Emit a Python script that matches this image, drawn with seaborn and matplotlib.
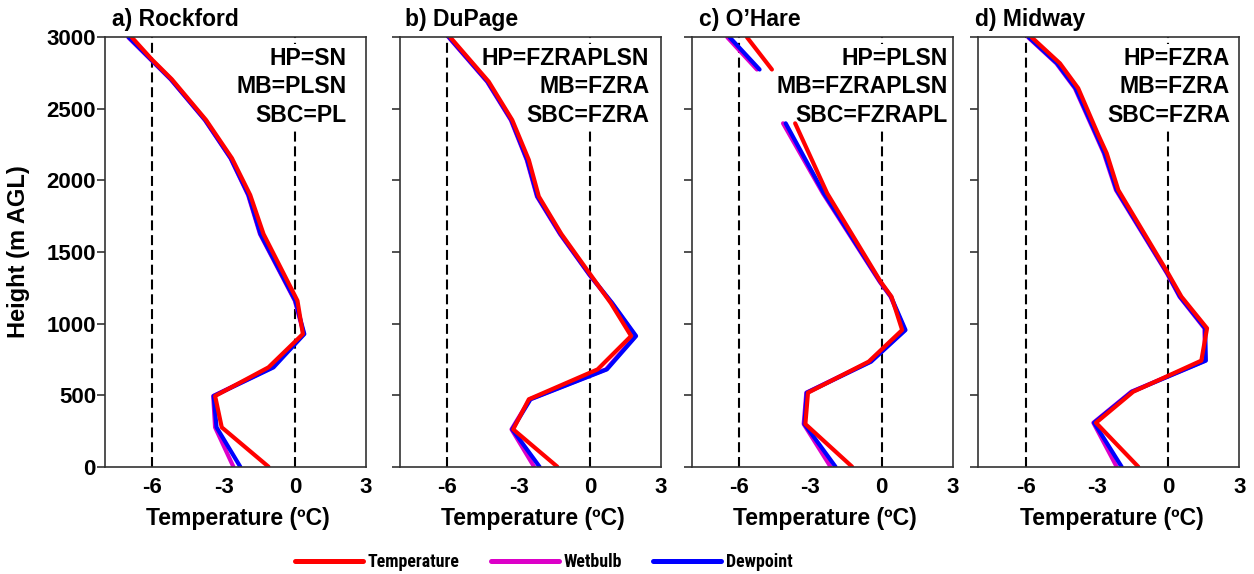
import numpy as np
import pandas as pd
import matplotlib
matplotlib.use("Agg")
import matplotlib.pyplot as plt
import seaborn as sns
from matplotlib.lines import Line2D
from matplotlib import font_manager as fm
from matplotlib.font_manager import FontProperties

# ---------------- data ----------------
titles = ["a) Rockford", "b) DuPage", "c) O\u2019Hare", "d) Midway"]
labels_hp = ["HP=SN", "HP=FZRAPLSN", "HP=PLSN", "HP=FZRA"]
labels_mb = ["MB=PLSN", "MB=FZRA", "MB=FZRAPLSN", "MB=FZRA"]
labels_sbc = ["SBC=PL", "SBC=FZRA", "SBC=FZRAPL", "SBC=FZRA"]

# a) Rockford
height_a = [3000, 2846, 2706, 2422, 2155, 1898, 1626, 1160, 927, 694, 494, 275, 0]
temp_a = [-6.87, -6.03, -5.18, -3.74, -2.65, -1.88, -1.32, 0.11, 0.34, -1.11, -3.36, -3.08, -1.11]
dewp_a = [-7.00, -6.07, -5.22, -3.78, -2.70, -1.95, -1.45, 0.02, 0.40, -0.90, -3.42, -3.30, -2.30]
wetb_a = [-7.02, -6.08, -5.23, -3.79, -2.71, -1.97, -1.47, 0.00, 0.38, -0.95, -3.44, -3.36, -2.59]

# b) DuPage
height_b = [3000, 2690, 2422, 2143, 1888, 1626, 1339, 1142, 913, 680, 471, 261, 0]
temp_b = [-5.88, -4.26, -3.27, -2.57, -2.15, -1.20, 0.04, 0.89, 1.74, 0.33, -2.57, -3.23, -1.37]
dewp_b = [-5.93, -4.31, -3.31, -2.64, -2.21, -1.24, 0.00, 0.95, 1.95, 0.72, -2.50, -3.27, -2.12]
wetb_b = [-5.95, -4.33, -3.33, -2.66, -2.23, -1.26, -0.01, 0.93, 1.92, 0.68, -2.53, -3.30, -2.35]

# c) O'Hare (missing level -> gap)
height_c = [3000, 2775, np.nan, 2399, 1910, 1293, 1188, 955, 734, 517, 298, 0]
temp_c = [-5.67, -4.62, np.nan, -3.64, -2.29, -0.04, 0.42, 0.87, -0.54, -3.10, -3.21, -1.24]
dewp_c = [-6.40, -5.14, np.nan, -4.04, -2.43, -0.06, 0.40, 1.01, -0.44, -3.15, -3.25, -1.94]
wetb_c = [-6.50, -5.25, np.nan, -4.15, -2.47, -0.08, 0.38, 0.98, -0.48, -3.17, -3.28, -2.15]

# d) Midway
height_d = [3000, 2818, 2644, 2317, 2190, 1933, 1351, 1188, 967, 741, 524, 307, 0]
temp_d = [-5.75, -4.56, -3.79, -2.94, -2.59, -2.10, 0.00, 0.56, 1.64, 1.40, -1.47, -3.04, -1.26]
dewp_d = [-5.87, -4.68, -3.90, -3.02, -2.68, -2.17, -0.03, 0.50, 1.56, 1.59, -1.52, -3.12, -1.96]
wetb_d = [-5.90, -4.71, -3.93, -3.05, -2.71, -2.20, -0.05, 0.48, 1.53, 1.56, -1.55, -3.15, -2.17]

x_ticks = [-6, -3, 0, 3]
y_ticks = [0, 500, 1000, 1500, 2000, 2500, 3000]
ref_lines = [-6, 0]

panels = [
    (height_a, temp_a, wetb_a, dewp_a),
    (height_b, temp_b, wetb_b, dewp_b),
    (height_c, temp_c, wetb_c, dewp_c),
    (height_d, temp_d, wetb_d, dewp_d),
]

colors = {"Temperature": "#FF0000", "Wetbulb": "#DC00C8", "Dewpoint": "#0000FF"}
draw_order = ["Wetbulb", "Dewpoint", "Temperature"]
legend_order = ["Temperature", "Wetbulb", "Dewpoint"]

# ---------------- style ----------------
sns.set_style("ticks")
plt.rcParams["font.family"] = ["Liberation Sans", "DejaVu Sans"]
plt.rcParams["font.weight"] = "bold"
plt.rcParams["axes.labelweight"] = "bold"
plt.rcParams["text.color"] = "black"
plt.rcParams["axes.labelcolor"] = "black"
plt.rcParams["xtick.color"] = "black"
plt.rcParams["ytick.color"] = "black"

names = {f.name for f in fm.fontManager.ttflist}
narrow = None
for cand in ["Liberation Sans Narrow", "Arial Narrow", "Roboto Condensed",
             "Noto Sans Condensed", "Open Sans Condensed"]:
    if cand in names:
        narrow = cand
        break

W, H = 1254, 574
fig = plt.figure(figsize=(W / 100, H / 100), dpi=100)

lefts = [105, 400, 691.7, 978.3]
ax_w, ax_h = 261, 429.4
ax_bottom = 466.7
text_x = [0.924, 0.955, 0.981, 0.964]
text_y = [0.9355, 0.8696, 0.8034]
title_x = [0.026, 0.019, 0.029, -0.012]

for i, (hts, tt, ww, dd) in enumerate(panels):
    ax = fig.add_axes([lefts[i] / W, (H - ax_bottom) / H, ax_w / W, ax_h / H])
    for xv in ref_lines:
        ax.axvline(xv, color="black", lw=1.5, ls=(0, (4.8, 2.3)), zorder=1)

    hts_arr = np.asarray(hts, dtype=float)
    seg = np.cumsum(np.isnan(hts_arr))
    rows = []
    for name, vals in zip(["Temperature", "Wetbulb", "Dewpoint"], [tt, ww, dd]):
        for h, v, s in zip(hts_arr, vals, seg):
            rows.append({"height": h, "value": v, "variable": name, "seg": s})
    df = pd.DataFrame(rows).dropna()

    sns.lineplot(data=df, x="value", y="height", hue="variable", units="seg",
                 estimator=None, sort=False, orient="y",
                 hue_order=draw_order, palette=colors, lw=3,
                 legend=False, ax=ax, zorder=2)

    ax.set_xlim(-8, 3)
    ax.set_ylim(0, 3000)
    ax.set_xticks(x_ticks)
    ax.set_xticklabels([str(t) for t in x_ticks])
    ax.set_yticks(y_ticks)
    if i == 0:
        ax.set_yticklabels([str(t) for t in y_ticks])
    else:
        ax.set_yticklabels([])
    ax.set_xlabel("")
    ax.set_ylabel("")
    ax.tick_params(axis="x", length=0, pad=7.2, labelsize=16, labelcolor="black")
    ax.tick_params(axis="y", direction="out", length=5.5, width=1.2,
                   pad=1, labelsize=16, color="#333333", labelcolor="black")
    for t in ax.get_xticklabels() + ax.get_yticklabels():
        t.set_fontweight("bold")
    for sp in ax.spines.values():
        sp.set_color("#333333")
        sp.set_linewidth(1.2)

    ax.text(title_x[i], 1.0263, titles[i], transform=ax.transAxes,
            ha="left", va="baseline", fontsize=16.5, fontweight="bold", color="black")
    for txt, yy in zip([labels_hp[i], labels_mb[i], labels_sbc[i]], text_y):
        ax.text(text_x[i], yy, txt, transform=ax.transAxes, ha="right",
                va="baseline", fontsize=16.6, fontweight="bold", zorder=1.5,
                color="black",
                bbox=dict(boxstyle="square,pad=0.15", fc="white", ec="none"))
    ax.text(0.51, -0.1358, "Temperature (\u00baC)", transform=ax.transAxes,
            ha="center", va="baseline", fontsize=16.6, fontweight="bold", color="black")

fig.text(19 / W, 1 - 252 / H, "Height (m AGL)", rotation=90, ha="center",
         va="center", fontsize=17, fontweight="bold", color="black")

handles = [Line2D([], [], color=colors[n], lw=3.6) for n in legend_order]
if narrow is not None:
    lsize = 12.9
    lp = FontProperties(family=[narrow, "Liberation Sans"], weight="bold", size=lsize)
else:
    lsize = 11.5
    lp = FontProperties(family=["Liberation Sans", "DejaVu Sans"], weight="bold", size=lsize)
fs_px = lsize * 100 / 72
fig.legend(handles, legend_order, loc="center left",
           bbox_to_anchor=(295 / W, 1 - 562 / H), ncol=3, frameon=False,
           borderpad=0, borderaxespad=0, prop=lp, labelcolor="black",
           handlelength=68 / fs_px, handletextpad=5 / fs_px,
           columnspacing=31 / fs_px)

fig.savefig("out.png", dpi=100)
